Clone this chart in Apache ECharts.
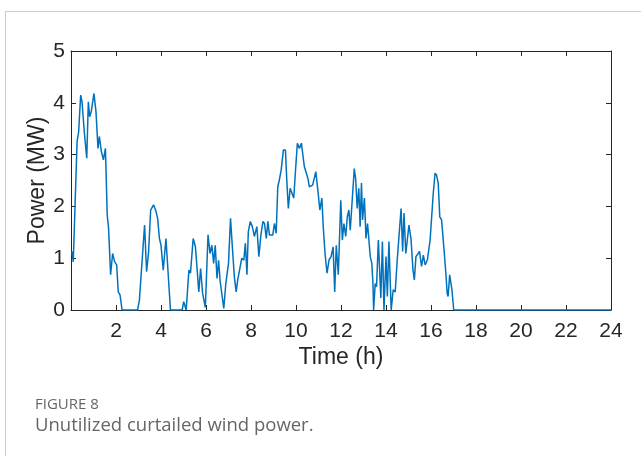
<!DOCTYPE html>
<html>
<head>
<meta charset="utf-8">
<script src="https://cdn.jsdelivr.net/npm/echarts@6/dist/echarts.min.js"></script>
<style>
    html, body { margin: 0; padding: 0; background: #fff; }
    #chart { width: 641px; height: 456px; }
</style>
</head>
<body>
<div id="chart"></div>
<script>
// time (h) of each vertex
var times = [
    0.04, 0.10, 0.27, 0.34, 0.43, 0.49, 0.59, 0.70, 0.77, 0.83, 0.90, 1.02, 1.11, 1.20, 1.26, 1.35, 1.44, 1.53,
    1.61, 1.67, 1.76, 1.85, 1.94, 2.03, 2.10, 2.18, 2.27, 2.96, 3.04, 3.11, 3.27, 3.36, 3.45, 3.54, 3.67, 3.78,
    3.85, 3.93, 4.00, 4.10, 4.22, 4.42, 4.94, 5.01, 5.12, 5.24, 5.31, 5.43, 5.53, 5.60, 5.68, 5.76, 5.85, 5.97,
    6.09, 6.18, 6.26, 6.34, 6.41, 6.49, 6.56, 6.63, 6.71, 6.79, 6.88, 7.00, 7.09, 7.19, 7.26, 7.34, 7.41, 7.49,
    7.59, 7.68, 7.75, 7.82, 7.88, 7.97, 8.06, 8.15, 8.21, 8.26, 8.35, 8.44, 8.53, 8.60, 8.68, 8.75, 8.82, 8.90,
    8.97, 9.04, 9.12, 9.19, 9.26, 9.34, 9.44, 9.53, 9.59, 9.66, 9.74, 9.82, 9.90, 9.97, 10.06, 10.15, 10.24, 10.29,
    10.37, 10.44, 10.53, 10.59, 10.66, 10.74, 10.81, 10.88, 10.97, 11.06, 11.15, 11.21, 11.29, 11.38, 11.47, 11.56,
    11.65, 11.72, 11.79, 11.88, 11.99, 12.06, 12.13, 12.21, 12.28, 12.35, 12.41, 12.47, 12.53, 12.59, 12.65, 12.72,
    12.79, 12.85, 12.91, 12.96, 13.04, 13.08, 13.11, 13.18, 13.23, 13.30, 13.37, 13.42, 13.45, 13.52, 13.58, 13.66,
    13.77, 13.84, 13.91, 14.00, 14.06, 14.13, 14.23, 14.32, 14.41, 14.50, 14.58, 14.67, 14.74, 14.80, 14.88, 15.02,
    15.11, 15.20, 15.26, 15.33, 15.40, 15.49, 15.58, 15.66, 15.74, 15.84, 15.96, 16.03, 16.10, 16.18, 16.25, 16.32,
    16.39, 16.47, 16.58, 16.66, 16.72, 16.76, 16.83, 16.89, 16.93, 17.01, 24
];
// unutilized curtailed wind power (MW)
var power = [
    1.13, 0.93, 3.25, 3.44, 4.15, 4.02, 3.44, 2.93, 4.02, 3.73, 3.83, 4.18, 3.83, 3.12, 3.35, 3.06, 2.90, 3.12,
    1.83, 1.58, 0.68, 1.09, 0.93, 0.87, 0.35, 0.29, 0, 0, 0.19, 0.16, 1.64, 0.74, 1.13, 1.93, 2.03, 1.90,
    1.77, 1.38, 1.25, 0.77, 1.38, 0, 0, 0.16, 0, 0.77, 0.71, 1.38, 1.22, 1.19, 0.35, 0.80, 0.32, 0.05,
    1.45, 1.09, 1.25, 0.90, 1.25, 0.61, 0.96, 0.55, 0.55, 0.03, 0.51, 0.90, 1.77, 1.09, 0.64, 0.35, 0.58, 0.55,
    1.00, 0.96, 1.29, 0.68, 1.51, 1.71, 1.61, 1.42, 1.45, 1.61, 1.03, 1.45, 1.71, 1.67, 1.38, 1.71, 1.45, 1.48,
    1.45, 1.67, 1.48, 2.38, 2.51, 2.70, 3.09, 3.09, 2.51, 1.96, 2.35, 2.32, 2.16, 2.64, 3.22, 3.12, 3.22, 3.19,
    2.77, 2.67, 2.54, 2.38, 2.35, 2.41, 2.54, 2.67, 2.32, 1.93, 2.16, 1.61, 1.09, 0.71, 0.97, 1.03,
    1.22, 0.35, 1.25, 0.68, 2.12, 1.35, 1.67, 1.42, 1.80, 1.93, 1.54, 1.93, 1.96, 2.73, 2.54, 1.96,
    2.35, 1.61, 2.45, 1.74, 2.16, 1.74, 1.38, 1.67, 1.41, 1.03, 0.90, 0.51, 0, 0.51, 0.45, 1.35,
    0.23, 1.32, 0, 1.03, 0.26, 1.32, 0, 0.39, 0.35, 0.97, 0.97, 1.96, 1.13, 1.87, 1.09, 1.64,
    1.38, 0.77, 0.58, 1.03, 1.06, 1.13, 0.84, 1.06, 0.87, 0.97, 1.35, 1.80, 2.25, 2.64, 2.60, 2.45,
    1.80, 1.74, 1.16, 0.71, 0.32, 0.26, 0.68, 0.68, 0.39, 0, 0
];
var xTicks = { min: 0, max: 24, step: 2 };
var yTicks = { min: 0, max: 5, step: 1 };

var axisColor = '#262626';
var font = '"Liberation Sans", Arial, sans-serif';

var lineData = [];
for (var i = 0; i < times.length; i++) {
    lineData.push([times[i], power[i]]);
}

var xBase = function (pos, showLabel) {
    return {
        type: 'value',
        position: pos,
        min: xTicks.min,
        max: xTicks.max,
        interval: xTicks.step,
        axisLine: { show: true, onZero: false, lineStyle: { color: axisColor, width: 1 } },
        axisTick: { show: true, inside: true, length: 5, lineStyle: { color: axisColor } },
        axisLabel: {
            show: showLabel, showMinLabel: false, color: axisColor, fontSize: 21,
            fontFamily: font, margin: 11
        },
        splitLine: { show: false }
    };
};
var yBase = function (pos, showLabel) {
    return {
        type: 'value',
        position: pos,
        min: yTicks.min,
        max: yTicks.max,
        interval: yTicks.step,
        axisLine: { show: true, onZero: false, lineStyle: { color: axisColor, width: 1 } },
        axisTick: { show: true, inside: true, length: 5, lineStyle: { color: axisColor } },
        axisLabel: { show: showLabel, color: axisColor, fontSize: 21, fontFamily: font, margin: 6 },
        splitLine: { show: false }
    };
};

var xBottom = xBase('bottom', true);
xBottom.name = 'Time (h)';
xBottom.nameLocation = 'middle';
xBottom.nameGap = 36;
xBottom.nameMoveOverlap = false;
xBottom.nameTextStyle = { color: axisColor, fontSize: 23, fontFamily: font };

var yLeft = yBase('left', true);
yLeft.name = 'Power (MW)';
yLeft.nameLocation = 'middle';
yLeft.nameGap = 22;
yLeft.nameMoveOverlap = false;
yLeft.nameTextStyle = { color: axisColor, fontSize: 23, fontFamily: font };

var myChart = echarts.init(document.getElementById('chart'));
myChart.setOption({
    animation: false,
    backgroundColor: '#fff',
    title: [
        {
            text: 'FIGURE 8', left: 35, top: 397, padding: 0,
            textStyle: { color: '#666', fontSize: 15, fontWeight: 'normal', fontFamily: 'Open Sans' }
        },
        {
            text: 'Unutilized curtailed wind power.', left: 35, top: 416, padding: 0,
            textStyle: { color: '#666', fontSize: 18.5, fontWeight: 'normal', fontFamily: 'Open Sans' }
        }
    ],
    graphic: [
        { type: 'line', shape: { x1: 5, y1: 11.5, x2: 641, y2: 11.5 }, style: { stroke: '#cccccc', lineWidth: 1 } },
        { type: 'line', shape: { x1: 5.5, y1: 11, x2: 5.5, y2: 456 }, style: { stroke: '#cccccc', lineWidth: 1 } }
    ],
    grid: { left: 71, top: 51, width: 540, height: 259 },
    xAxis: [xBottom, xBase('top', false)],
    yAxis: [yLeft, yBase('right', false)],
    series: [{
        type: 'line',
        xAxisIndex: 0,
        yAxisIndex: 0,
        data: lineData,
        showSymbol: false,
        lineStyle: { color: '#0072BD', width: 1.5 },
        itemStyle: { color: '#0072BD' }
    }]
});
</script>
</body>
</html>
